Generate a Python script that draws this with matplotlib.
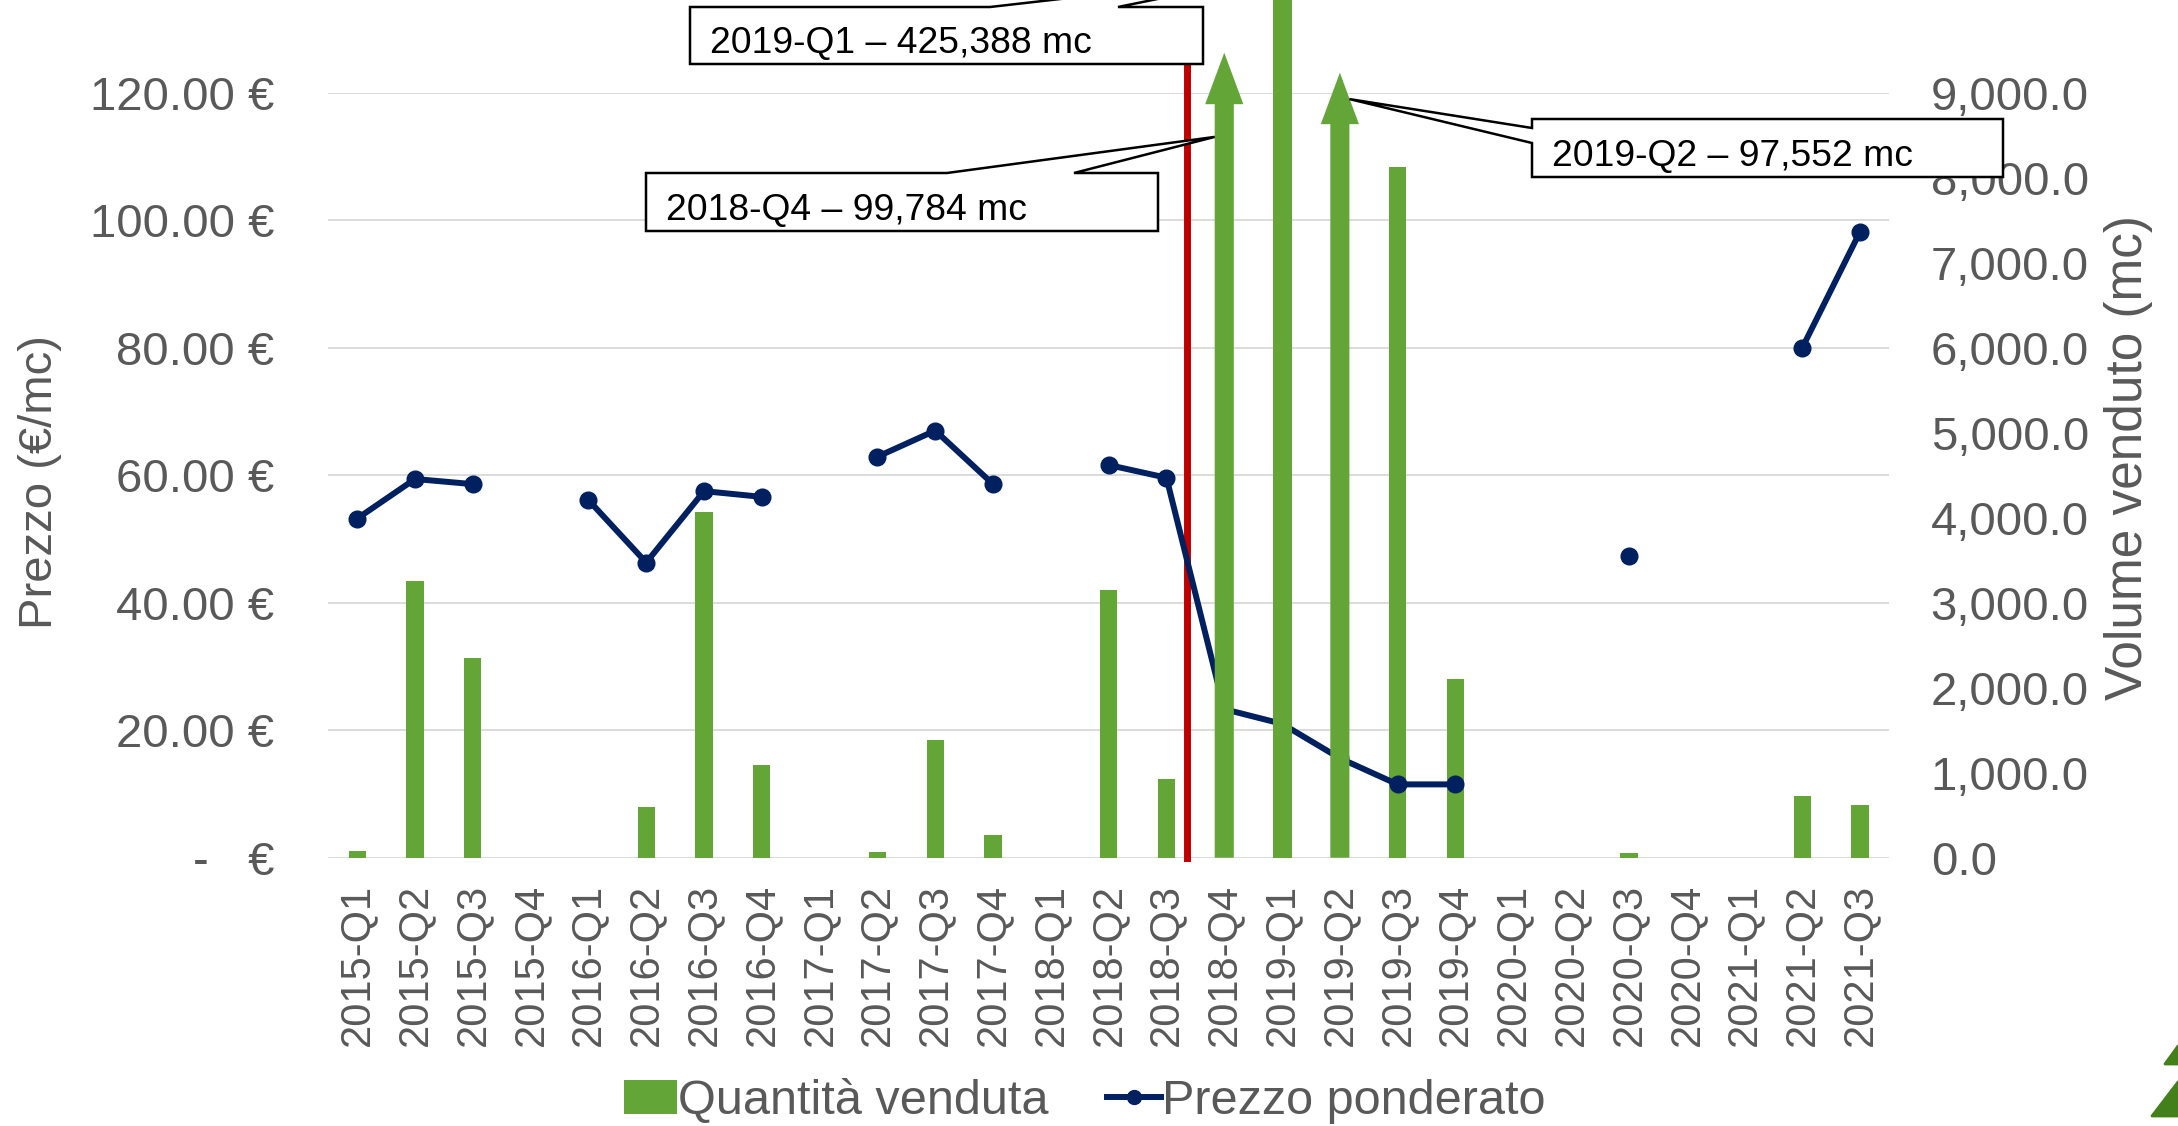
import numpy as np
import matplotlib
matplotlib.use("Agg")
import matplotlib.pyplot as plt
from matplotlib.patches import Polygon, Patch
from matplotlib.lines import Line2D

plt.rcParams['font.family'] = ['Liberation Sans', 'DejaVu Sans']

# Dati trimestrali
quarters = ["2015-Q1", "2015-Q2", "2015-Q3", "2015-Q4",
            "2016-Q1", "2016-Q2", "2016-Q3", "2016-Q4",
            "2017-Q1", "2017-Q2", "2017-Q3", "2017-Q4",
            "2018-Q1", "2018-Q2", "2018-Q3", "2018-Q4",
            "2019-Q1", "2019-Q2", "2019-Q3", "2019-Q4",
            "2020-Q1", "2020-Q2", "2020-Q3", "2020-Q4",
            "2021-Q1", "2021-Q2", "2021-Q3"]

# volume venduto (mc)
volume = [78, 3250, 2345, 0,
          0, 600, 4065, 1090,
          0, 67, 1385, 270,
          0, 3150, 925, 99784,
          425388, 97552, 8130, 2100,
          0, 0, 53, 0,
          0, 722, 617]

# prezzo ponderato (EUR/mc)
nan = np.nan
price = [53.2, 59.4, 58.6, nan,
         56.1, 46.3, 57.5, 56.6,
         nan, 62.9, 67.0, 58.6,
         nan, 61.6, 59.6, 23.3,
         21.0, 15.6, 11.5, 11.5,
         nan, nan, 47.4, nan,
         nan, 80.0, 98.2]

# barre fuori scala: dove finisce la freccia (None = barra intera)
off_scale_tip = {"2018-Q4": 9470, "2019-Q1": None, "2019-Q2": 9235}
vaia = 14.36  # tempesta Vaia, ott. 2018

GREEN = '#63A537'
NAVY = '#002060'
RED = '#C00000'
GREY = '#595959'
GRID = '#D9D9D9'

W, H = 2178, 1126
fig = plt.figure(figsize=(W / 100, H / 100), dpi=100)
ax = fig.add_axes([328.3 / W, 1 - 857.7 / H, 1560.7 / W, 765 / H])
ax2 = ax.twinx()

x = np.arange(len(quarters))

# barre normali
for i, q in enumerate(quarters):
    if q in off_scale_tip:
        continue
    ax2.bar(i, volume[i], width=0.30, color=GREEN, zorder=1)

# barre fuori scala con freccia
bw, hw, hl = 0.33, 0.66, 605
for q, tip in off_scale_tip.items():
    i = quarters.index(q)
    if tip is None:
        ax2.bar(i, volume[i], width=bw, color=GREEN, zorder=3, clip_on=False)
    else:
        base = tip - hl
        pts = [(i - bw / 2, 0), (i - bw / 2, base), (i - hw / 2, base), (i, tip),
               (i + hw / 2, base), (i + bw / 2, base), (i + bw / 2, 0)]
        ax2.add_patch(Polygon(pts, closed=True, facecolor=GREEN, edgecolor='none',
                              zorder=3, clip_on=False))

ax2.axvline(vaia, ymin=0, ymax=1.08, color=RED, lw=5, zorder=1.5, clip_on=False)

ax2.plot(x, price, color=NAVY, lw=4.3, marker='o', ms=12, transform=ax.transData, zorder=2)

ax.set_xlim(-0.5, len(quarters) - 0.5)
ax.set_ylim(0, 120)
ax2.set_ylim(0, 9000)
ax.set_yticks(np.arange(0, 121, 20))
ax2.set_yticks(np.arange(0, 9001, 1000))
ax.set_yticklabels([f"{v:.2f} €" if v else "-   €" for v in np.arange(0, 121, 20)])
ax2.set_yticklabels([f"{v:,.1f}" for v in np.arange(0, 9001, 1000)])
ax.set_xticks(x)
ax.set_xticklabels(quarters, rotation=90)

ax.grid(axis='y', color=GRID, lw=1.3)
ax.set_axisbelow(True)
for a in (ax, ax2):
    for s in a.spines.values():
        s.set_visible(False)
ax.tick_params(axis='y', length=0, pad=39, labelsize=34, labelcolor=GREY)
ax.tick_params(axis='x', length=0, pad=19, labelsize=30, labelcolor=GREY)
ax2.tick_params(axis='y', length=0, pad=30, labelsize=34, labelcolor=GREY)

ax.set_ylabel("Prezzo (€/mc)", fontsize=34, color=GREY)
ax.yaxis.set_label_coords(-0.1706, 0.491)
ax2.set_ylabel("Volume venduto (mc)", fontsize=37, color=GREY)
ax2.yaxis.set_label_coords(1.1378, 0.523)

# legenda
handles = [Patch(facecolor=GREEN, edgecolor='none'),
           Line2D([], [], color=NAVY, lw=4.3, marker='o', ms=10)]
fig.legend(handles, ["Quantità venduta", "Prezzo ponderato"], loc='center',
           bbox_to_anchor=(0.498, 0.022), ncol=2, frameon=False, fontsize=35,
           labelcolor=GREY, handlelength=1.1, handleheight=0.7,
           handletextpad=0.03, columnspacing=1.2)


# callout (coordinate in pixel dall'alto a sinistra)
def fpx(px, py):
    return (px / W, 1 - py / H)


def tip_px(xd, yd):
    dx, dy = ax2.transData.transform((xd, yd))
    return dx, H - dy


def callout(box, text, tip, wedge, side='top'):
    x0, y0, x1, y1 = box
    wa, wb = wedge
    if side == 'top':
        pts = [(x0, y0), (wa, y0), tip, (wb, y0), (x1, y0), (x1, y1), (x0, y1)]
    else:
        pts = [(x0, y0), (x1, y0), (x1, y1), (x0, y1), (x0, wb), tip, (x0, wa)]
    fig.add_artist(Polygon([fpx(*p) for p in pts], closed=True, transform=fig.transFigure,
                           facecolor='white', edgecolor='black', lw=1.8, zorder=5))
    tx, ty = fpx(x0 + 20, y1 - 11)
    fig.text(tx, ty, text, fontsize=26.8, color='black', va='baseline', zorder=6)


callout((690, 7, 1203, 64), "2019-Q1 – 425,388 mc", tip_px(16, 10400), (990, 1118))
callout((646, 173, 1158, 231), "2018-Q4 – 99,784 mc", tip_px(15 - 0.165, 8480), (947, 1074))
callout((1532, 119, 2003, 177), "2019-Q2 – 97,552 mc", tip_px(17 + 0.165, 8925), (128, 143), side='left')

# pezzo di logo nell'angolo
for pts in ([(2165, 1064), (2178, 1046), (2178, 1064)],
            [(2152, 1116), (2178, 1082), (2178, 1116)]):
    fig.add_artist(Polygon([fpx(*p) for p in pts], closed=True, transform=fig.transFigure,
                           facecolor='#44801A', edgecolor='#44801A', lw=2, joinstyle='round'))

fig.savefig("out.png", dpi=100)
